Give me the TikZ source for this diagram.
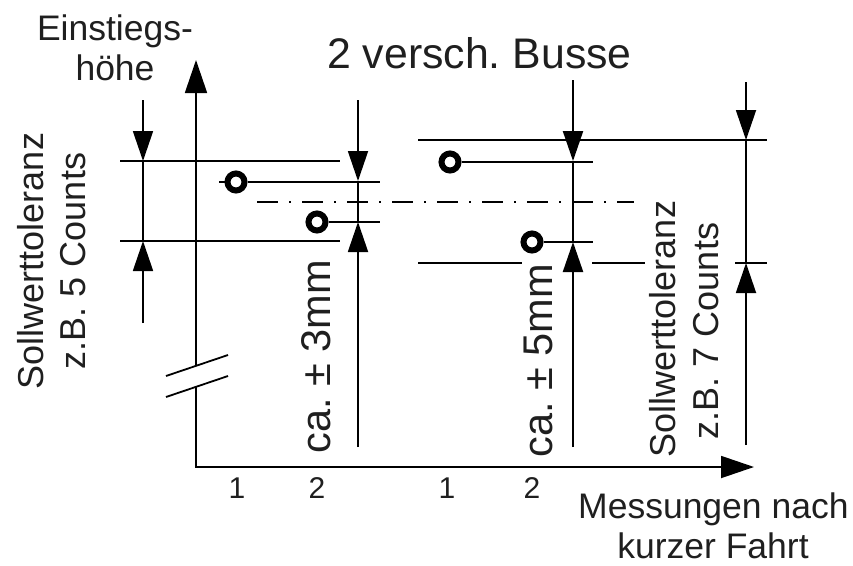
\documentclass[tikz,border=0pt]{standalone}
\usepackage{fontspec}
\setmainfont{Liberation Sans}
\usetikzlibrary{arrows.meta}
\begin{document}
\frenchspacing
\begin{tikzpicture}[x=1pt,y=-1pt,
  ln/.style={line width=1.8pt, draw=black},
  dimtip/.style={-{Triangle[length=30pt,width=20pt]}},
  axtip/.style={-{Triangle[length=33pt,width=22pt]}},
  meas/.style={circle, line width=6pt, draw=black, minimum size=17pt, inner sep=0pt},
  txt/.style={font=\fontsize{35.5}{40}\selectfont, inner sep=0pt, text=black!88},
  ttl/.style={font=\fontsize{42.8}{48}\selectfont, inner sep=0pt, text=black!88},
  tick/.style={font=\fontsize{30}{34}\selectfont, inner sep=0pt, text=black!88},
  rtxt/.style={font=\fontsize{36}{40}\selectfont, inner sep=0pt, text=black!88, rotate=90, anchor=base},
  mtxt/.style={font=\fontsize{41.5}{46}\selectfont, inner sep=0pt, text=black!88, rotate=90, anchor=base},
  dashdot/.style={line width=1.8pt, dash pattern=on 21pt off 11pt on 2pt off 11pt}
]
\useasboundingbox (0,0) rectangle (853,565);

% ---- axes ----
\coordinate (origin) at (196,467);
\coordinate (ybrklo) at (196,386);
\coordinate (ybrkhi) at (196,365);
\coordinate (ytip) at (196,60);
\coordinate (xtip) at (754,467);
\draw[ln, axtip] (ybrklo) -- (origin) -- (xtip);
\draw[ln, axtip] (ybrkhi) -- (ytip);
\coordinate (s1a) at (166,376); \coordinate (s1b) at (228,355);
\coordinate (s2a) at (166,397); \coordinate (s2b) at (228,376);
\draw[ln] (s1a) -- (s1b);
\draw[ln] (s2a) -- (s2b);

% ---- left tolerance band ----
\coordinate (lt1) at (120,161); \coordinate (lt2) at (340,161);
\coordinate (lb1) at (120,241); \coordinate (lb2) at (340,241);
\draw[ln] (lt1) -- (lt2);
\draw[ln] (lb1) -- (lb2);
\coordinate (ld0) at (143,100); \coordinate (ldt) at (143,161);
\coordinate (ld1) at (143,323); \coordinate (ldb) at (143,241);
\draw[ln] (ldt) -- (ldb);
\draw[ln, dimtip] (ld0) -- (ldt);
\draw[ln, dimtip] (ld1) -- (ldb);

% ---- first bus ----
\node[meas] (a1) at (236,182) {};
\node[meas, fill=white] (a2) at (317,222) {};
\coordinate (a1s) at (219,182); \coordinate (a1e) at (380,182);
\coordinate (a2e) at (380,222);
\draw[ln] (a1s) -- (a1.west);
\draw[ln] (a1.east) -- (a1e);
\draw[ln] (a2.east) -- (a2e);
\coordinate (m0) at (358,100); \coordinate (mt) at (358,181);
\coordinate (m1) at (358,447); \coordinate (mb) at (358,222);
\draw[ln] (mt) -- (mb);
\draw[ln, dimtip] (m0) -- (mt);
\draw[ln, dimtip] (m1) -- (mb);

% ---- reference dash-dot line ----
\coordinate (dd1) at (257,202); \coordinate (dd2) at (634,202);
\draw[dashdot] (dd1) -- (dd2);

% ---- right tolerance band ----
\coordinate (rt1) at (418,140); \coordinate (rt2) at (767,140);
\draw[line width=2.2pt] (rt1) -- (rt2);
\coordinate (rb1) at (418,263); \coordinate (rb2) at (522,263);
\coordinate (rb3) at (592,263); \coordinate (rb4) at (645,263);
\coordinate (rb5) at (735,263); \coordinate (rb6) at (767,263);
\draw[ln] (rb1) -- (rb2);
\draw[ln] (rb3) -- (rb4);
\draw[ln] (rb5) -- (rb6);

% ---- second bus ----
\node[meas, fill=white] (b1) at (450,162) {};
\node[meas, fill=white] (b2) at (532,242) {};
\coordinate (b1e) at (593,162); \coordinate (b2e) at (593,242);
\draw[ln] (b1.east) -- (b1e);
\draw[ln] (b2.east) -- (b2e);
\coordinate (n0) at (573,80); \coordinate (nt) at (573,161);
\coordinate (n1) at (573,447); \coordinate (nb) at (573,242);
\draw[line width=2.2pt] (nt) -- (nb);
\draw[line width=2.2pt, dimtip] (n0) -- (nt);
\draw[line width=2.2pt, dimtip] (n1) -- (nb);

\coordinate (r0) at (746,82); \coordinate (rt) at (746,140);
\coordinate (r1) at (746,445); \coordinate (rb) at (746,263);
\draw[ln] (rt) -- (rb);
\draw[ln, dimtip] (r0) -- (rt);
\draw[ln, dimtip] (r1) -- (rb);

% ---- texts ----
\node[txt, anchor=base] (einst) at (115,40) {Einstiegs-};
\node[txt, anchor=base] (hoehe) at (115,80) {höhe};
\node[ttl, anchor=base west] (title) at (327,68) {2 versch. Busse};
\node[txt, anchor=base west] (mess) at (578,518) {Messungen nach};
\node[txt, anchor=base] (fahrt) at (713,558) {kurzer Fahrt};
\node[tick, anchor=base] (t1) at (237,498) {1};
\node[tick, anchor=base] (t2) at (317,498) {2};
\node[tick, anchor=base] (t3) at (447,498) {1};
\node[tick, anchor=base] (t4) at (532,498) {2};

\node[rtxt] (lsoll) at (43,261) {Sollwerttoleranz};
\node[rtxt] (lzb) at (85,261) {z.B. 5 Counts};
\node[rtxt] (rsoll) at (675,329) {Sollwerttoleranz};
\node[rtxt] (rzb) at (718,331) {z.B. 7 Counts};
\node[mtxt] (ca3) at (330,357) {ca. ± 3mm};
\node[mtxt] (ca5) at (552,361) {ca. ± 5mm};
\end{tikzpicture}
\end{document}
